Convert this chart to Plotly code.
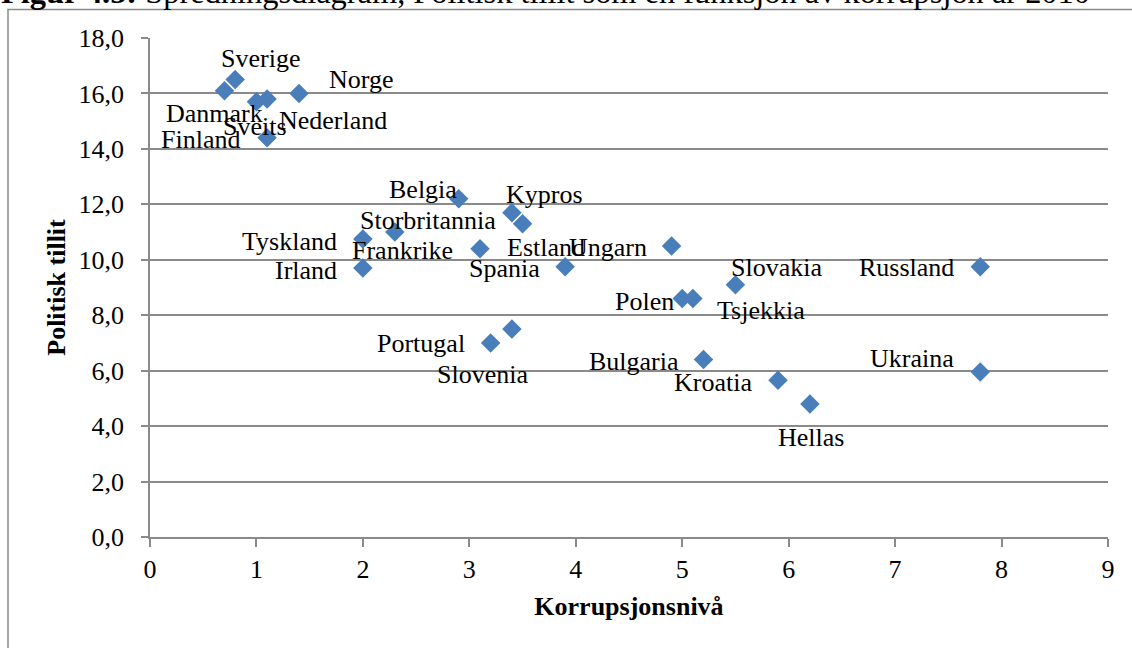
import plotly.graph_objects as go

# ---- data ----
countries = ["Sverige", "Finland", "Danmark", "Nederland", "Norge", "Sveits",
             "Belgia", "Kypros", "Estland", "Storbritannia", "Tyskland", "Frankrike",
             "Irland", "Spania", "Ungarn", "Polen", "Tsjekkia", "Slovakia",
             "Russland", "Portugal", "Slovenia", "Bulgaria", "Kroatia", "Hellas", "Ukraina"]
korrupsjon = [0.8, 0.7, 1.0, 1.1, 1.4, 1.1,
              2.9, 3.4, 3.5, 2.3, 2.0, 3.1,
              2.0, 3.9, 4.9, 5.0, 5.1, 5.5,
              7.8, 3.2, 3.4, 5.2, 5.9, 6.2, 7.8]
tillit = [16.5, 16.1, 15.7, 15.8, 16.0, 14.4,
          12.2, 11.7, 11.3, 11.0, 10.75, 10.4,
          9.7, 9.75, 10.5, 8.6, 8.6, 9.1,
          9.75, 7.0, 7.5, 6.4, 5.65, 4.8, 5.95]
x_ticks = [0, 1, 2, 3, 4, 5, 6, 7, 8, 9]
y_ticks = [0, 2, 4, 6, 8, 10, 12, 14, 16, 18]
y_tick_labels = ["0,0", "2,0", "4,0", "6,0", "8,0", "10,0", "12,0", "14,0", "16,0", "18,0"]

# label pixel offsets (dx right, dy down) relative to each marker
label_offsets = [(25, -21), (-24, 49), (-42, 12), (66, 22), (62, -14), (-12, -11),
                 (-36, -9), (33, -18), (23, 24), (33, -12), (-73, 3), (-77, 2),
                 (-57, 2), (-61, 2), (-64, 2), (-38, 3), (68, 12), (41, -17),
                 (-74, 1), (-70, 1), (-29, 45), (-70, 2), (-65, 2), (1, 34), (-68, -14)]

W, H = 1132, 648
ML, MR, MT, MB = 150, 24, 38, 111
PW, PH = W - ML - MR, H - MT - MB

def px_x(p):
    return (p - ML) / PW

def px_y(p):
    return (H - MB - p) / PH

FONT = "Liberation Serif, Times New Roman, serif"
GRID = "#8a8a8a"

fig = go.Figure()
fig.add_trace(go.Scatter(
    x=korrupsjon, y=tillit, mode="markers",
    marker=dict(symbol="diamond", size=15, color="#4A7EBB", line=dict(width=0)),
    text=countries, hoverinfo="text", showlegend=False, cliponaxis=False,
))

annotations = []
for c, xv, yv, (dx, dy) in zip(countries, korrupsjon, tillit, label_offsets):
    annotations.append(dict(
        x=xv, y=yv, xref="x", yref="y", text=c, showarrow=False,
        xshift=dx, yshift=-dy, xanchor="center", yanchor="middle",
        font=dict(family=FONT, size=26, color="black"),
    ))

# partially cropped caption at the very top
annotations.append(dict(
    x=px_x(-1), y=px_y(-8.5), xref="paper", yref="paper",
    text="<b>Figur 4.5:</b> Spredningsdiagram, Politisk tillit som en funksjon av korrupsjon år 2010",
    showarrow=False, xanchor="left", yanchor="middle",
    font=dict(family=FONT, size=32.4, color="black"),
))

fig.update_layout(
    width=W, height=H,
    margin=dict(l=ML, r=MR, t=MT, b=MB),
    paper_bgcolor="white", plot_bgcolor="white",
    font=dict(family=FONT, size=26, color="black"),
    annotations=annotations,
    shapes=[dict(type="rect", xref="paper", yref="paper",
                 x0=px_x(8), x1=px_x(W + 20), y0=px_y(H + 20), y1=px_y(9.5),
                 line=dict(color=GRID, width=1.5), fillcolor="rgba(0,0,0,0)", layer="below")],
    xaxis=dict(
        range=[0, 9], tickvals=x_ticks, ticktext=[str(v) for v in x_ticks],
        showgrid=False, zeroline=False, showline=True, linecolor=GRID, linewidth=1.5,
        ticks="outside", ticklen=8, tickcolor=GRID, tickwidth=1.5,
        tickfont=dict(family=FONT, size=26, color="black"),
        title=dict(text="<b>Korrupsjonsnivå</b>", standoff=14,
                   font=dict(family=FONT, size=26, color="black")),
        fixedrange=True,
    ),
    yaxis=dict(
        range=[0, 18], tickvals=y_ticks, ticktext=y_tick_labels,
        showgrid=True, gridcolor=GRID, gridwidth=1.5,
        zeroline=False, showline=True, linecolor=GRID, linewidth=1.5,
        ticks="outside", ticklen=7, tickcolor=GRID, tickwidth=1.5,
        ticklabelstandoff=12,
        tickfont=dict(family=FONT, size=26, color="black"),
        title=dict(text="<b>Politisk tillit</b>", standoff=5,
                   font=dict(family=FONT, size=26, color="black")),
        fixedrange=True,
    ),
)

fig.write_html("out.html", config={"displayModeBar": False},
               post_script="document.body.style.margin='0';document.body.style.overflow='hidden';")
